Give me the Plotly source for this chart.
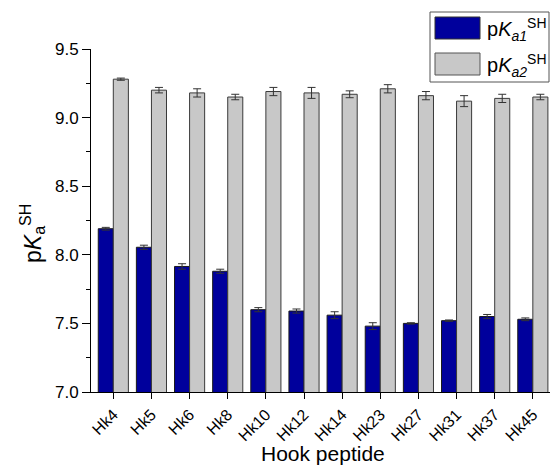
import plotly.graph_objects as go

categories = ["Hk4", "Hk5", "Hk6", "Hk8", "Hk10", "Hk12", "Hk14", "Hk23", "Hk27", "Hk31", "Hk37", "Hk45"]
pka1 = [8.19, 8.055, 7.915, 7.88, 7.60, 7.59, 7.56, 7.48, 7.50, 7.52, 7.55, 7.53]
pka1_err = [0.01, 0.015, 0.02, 0.015, 0.015, 0.015, 0.025, 0.025, 0.005, 0.005, 0.015, 0.01]
pka2 = [9.28, 9.20, 9.18, 9.15, 9.19, 9.18, 9.17, 9.21, 9.16, 9.12, 9.14, 9.15]
pka2_err = [0.008, 0.02, 0.03, 0.02, 0.03, 0.04, 0.025, 0.03, 0.03, 0.04, 0.03, 0.02]

BLUE = "#00009C"
GRAY = "#C8C8C8"
FONT = "Liberation Sans, Arial, sans-serif"

W, H = 550, 468
L, R, T, B = 91, 0, 49, 76
PW, PH = W - L - R, H - T - B

def px(x):
    return (x - L) / PW

def py(y):
    return (H - B - y) / PH

fig = go.Figure()
fig.add_trace(go.Bar(
    x=categories, y=pka1, name="pKa1",
    marker=dict(color=BLUE, line=dict(color="#1a1a1a", width=1)),
    error_y=dict(type="data", array=pka1_err, color="#333333", thickness=1, width=4),
))
fig.add_trace(go.Bar(
    x=categories, y=pka2, name="pKa2",
    marker=dict(color=GRAY, line=dict(color="#3a3a3a", width=1)),
    error_y=dict(type="data", array=pka2_err, color="#333333", thickness=1, width=4),
))

shapes = [
    dict(type="rect", xref="paper", yref="paper",
         x0=px(430), x1=px(549), y0=py(82), y1=py(12),
         line=dict(color="#555555", width=1), fillcolor="white"),
    dict(type="rect", xref="paper", yref="paper",
         x0=px(435), x1=px(480), y0=py(39), y1=py(17),
         line=dict(color="#333333", width=1), fillcolor=BLUE),
    dict(type="rect", xref="paper", yref="paper",
         x0=px(435), x1=px(480), y0=py(75), y1=py(53),
         line=dict(color="#555555", width=1), fillcolor=GRAY),
]

annotations = [
    dict(xref="paper", yref="paper", x=px(485), y=py(29), xanchor="left", yanchor="middle",
         text="p<i>K</i><sub><i>a1</i></sub><sup>SH</sup>", showarrow=False,
         font=dict(family=FONT, size=20, color="black")),
    dict(xref="paper", yref="paper", x=px(485), y=py(65), xanchor="left", yanchor="middle",
         text="p<i>K</i><sub><i>a2</i></sub><sup>SH</sup>", showarrow=False,
         font=dict(family=FONT, size=20, color="black")),
    dict(xref="paper", yref="paper", x=px(32), y=py(234), xanchor="center", yanchor="middle",
         text="p<i>K</i><sub>a</sub><sup>SH</sup>", textangle=-90, showarrow=False,
         font=dict(family=FONT, size=23, color="black")),
    dict(xref="paper", yref="paper", x=px(323), y=py(454), xanchor="center", yanchor="middle",
         text="Hook peptide", showarrow=False,
         font=dict(family=FONT, size=21, color="black")),
]

fig.update_layout(
    width=W, height=H,
    margin=dict(l=L, r=R, t=T, b=B),
    paper_bgcolor="white", plot_bgcolor="white",
    barmode="group", bargap=0.21, bargroupgap=0,
    showlegend=False,
    font=dict(family=FONT, color="black"),
    shapes=shapes, annotations=annotations,
    xaxis=dict(
        range=[-0.585, 11.45],
        showline=True, linecolor="black", linewidth=1,
        ticks="outside", ticklen=6, tickcolor="black",
        tickangle=-45, tickfont=dict(size=16, family=FONT),
        showgrid=False, zeroline=False,
    ),
    yaxis=dict(
        range=[7.0, 9.5],
        dtick=0.5, tick0=7.0, tickformat=".1f",
        showline=True, linecolor="black", linewidth=1,
        ticks="outside", ticklen=8, tickcolor="black",
        tickfont=dict(size=17, family=FONT),
        showgrid=False, zeroline=False,
        minor=dict(dtick=0.25, ticks="outside", ticklen=4, tickcolor="black", showgrid=False),
    ),
)

fig.write_html("out.html", config={"displayModeBar": False},
               post_script="document.body.style.margin='0';document.body.style.overflow='hidden';")
